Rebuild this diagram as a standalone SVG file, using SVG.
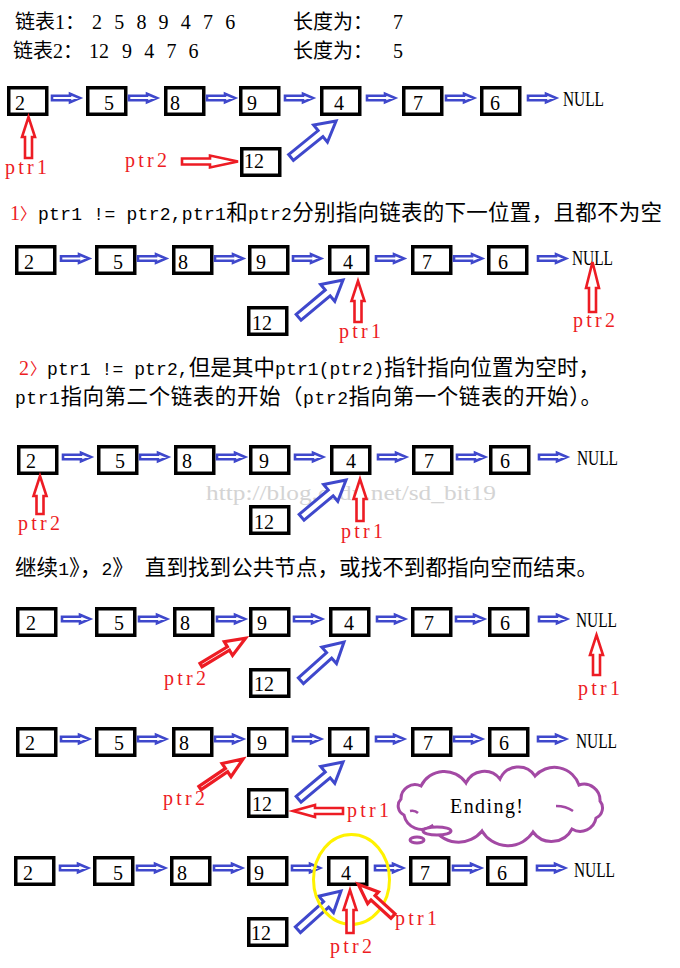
<svg xmlns="http://www.w3.org/2000/svg" xmlns:xlink="http://www.w3.org/1999/xlink" width="680" height="968" viewBox="0 0 680 968">
<style>
.box{fill:#fff;stroke:#000;stroke-width:3.5}
.num{font-family:"Liberation Serif",serif;font-size:20px;fill:#000}
.nul{font-family:"Liberation Serif",serif;font-size:20px;fill:#000}
.ba{fill:#fff;stroke:#3F48CC;stroke-width:2.6}
.bd{fill:#fff;stroke:#3F48CC;stroke-width:3}
.ra{fill:#fff;stroke:#ED1C24;stroke-width:2.6}
.rb{fill:#fff;stroke:#ED1C24;stroke-width:3.2}
.lbl{font-family:"Liberation Serif",serif;font-size:20px;fill:#ED1C24}
.top{font-family:"Liberation Serif","Noto Sans CJK SC",sans-serif;font-size:20px;fill:#000}
.body{font-family:"Noto Sans CJK SC",sans-serif;font-size:21.5px;fill:#000}
.m{font-family:"Liberation Mono",monospace;font-size:18px}
.rs{font-family:"Liberation Serif",serif;font-size:20px;fill:#ED1C24}
.rc{font-family:"Noto Sans CJK SC",sans-serif;font-size:16px;fill:#ED1C24}
.wm{font-family:"Liberation Serif",serif;font-size:20px;fill:#d4d4d4}
</style>
<defs>
<path id="sa" d="M0,-2.2 H18 V-4.3 L28,0 L18,4.3 V2.2 H0 Z"/>
<path id="da" d="M0,-3.8 H38 V-11 L58,0 L38,11 V3.8 H0 Z"/>
<path id="rd" d="M0,-2 H32 V-8 L52,0 L32,8 V2 H0 Z"/>
<path id="rd2" d="M0,-3 H27 V-8 L47,0 L27,8 V3 H0 Z"/>
</defs>
<rect width="680" height="968" fill="#fff"/>

<g id="header">
<text class="top" y="29"><tspan x="15">链表1：</tspan><tspan x="92" style="letter-spacing:3.6px">2 5 8 9 4 7 6</tspan></text>
<text class="top" y="29"><tspan x="293">长度为：</tspan><tspan x="393">7</tspan></text>
<text class="top" y="58"><tspan x="13">链表2：</tspan><tspan x="89">12 </tspan><tspan x="122" style="letter-spacing:3.6px">9 4 7 6</tspan></text>
<text class="top" y="58"><tspan x="293">长度为：</tspan><tspan x="393">5</tspan></text>
</g>

<g id="step1-text">
<text class="rs" x="10" y="220">1</text>
<text class="rc" x="20" y="219">〉</text>
<text class="body" x="38" y="220" textLength="624" lengthAdjust="spacing"><tspan class="m">ptr1 != ptr2,ptr1</tspan>和<tspan class="m">ptr2</tspan>分别指向链表的下一位置，且都不为空</text>
</g>
<g id="step2-text">
<text class="rs" x="19" y="375">2</text>
<text class="rc" x="30" y="374">〉</text>
<text class="body" x="47" y="375" textLength="553" lengthAdjust="spacing"><tspan class="m">ptr1 != ptr2,</tspan>但是其中<tspan class="m">ptr1(ptr2)</tspan>指针指向位置为空时，</text>
<text class="body" x="15" y="404" textLength="587" lengthAdjust="spacing"><tspan class="m">ptr1</tspan>指向第二个链表的开始（<tspan class="m">ptr2</tspan>指向第一个链表的开始）。</text>
</g>
<g id="step3-text">
<text class="body" y="575" x="15" textLength="583" lengthAdjust="spacing">继续<tspan class="m">1</tspan>》，<tspan class="m">2</tspan>》<tspan class="m"> </tspan>直到找到公共节点，或找不到都指向空而结束。</text>
</g>

<text id="watermark" class="wm" x="206" y="500" textLength="290" lengthAdjust="spacingAndGlyphs">http://blog.csdn.net/sd_bit19</text>

<!-- Row 1 -->
<g id="row1">
<g id="r1-n2"><rect class="box" x="8.75" y="87.75" width="38" height="26.5"/><text class="num" x="15" y="110">2</text></g>
<g id="r1-n5"><rect class="box" x="87.75" y="87.75" width="38" height="26.5"/><text class="num" x="104" y="110">5</text></g>
<g id="r1-n8"><rect class="box" x="165.75" y="87.75" width="38" height="26.5"/><text class="num" x="170" y="110">8</text></g>
<g id="r1-n9"><rect class="box" x="240.75" y="87.75" width="38" height="26.5"/><text class="num" x="247" y="110">9</text></g>
<g id="r1-n4"><rect class="box" x="321.75" y="87.75" width="38" height="26.5"/><text class="num" x="334" y="110">4</text></g>
<g id="r1-n7"><rect class="box" x="403.75" y="87.75" width="38" height="26.5"/><text class="num" x="413" y="110">7</text></g>
<g id="r1-n6"><rect class="box" x="481.75" y="87.75" width="38" height="26.5"/><text class="num" x="490" y="110">6</text></g>
<g id="r1-null"><text class="nul" x="563" y="106" textLength="41" lengthAdjust="spacingAndGlyphs">NULL</text></g>
<g id="r1-n12"><rect class="box" x="241.75" y="148.75" width="38" height="26.5"/><text class="num" x="244" y="168">12</text></g>
<g id="r1-ptr1"><text class="lbl" x="5" y="174" textLength="42" lengthAdjust="spacing">ptr1</text></g>
<g id="r1-ptr2"><text class="lbl" x="125" y="167" textLength="42" lengthAdjust="spacing">ptr2</text></g>
</g>
<g id="row1-connectors">
<use href="#sa" class="ba" transform="translate(52,98)"/>
<use href="#sa" class="ba" transform="translate(129,98)"/>
<use href="#sa" class="ba" transform="translate(207,98)"/>
<use href="#sa" class="ba" transform="translate(285,98)"/>
<use href="#sa" class="ba" transform="translate(367,98)"/>
<use href="#sa" class="ba" transform="translate(446,98)"/>
<use href="#sa" class="ba" transform="translate(528,98)"/>
<use href="#da" class="bd" transform="translate(291,157.5) rotate(-39)"/>
<polygon class="ra" points="25,158 25,137 22,137 28.5,117 35,137 32,137 32,158"/>
<polygon class="ra" points="182,158.5 210,158.5 210,155.5 238,161.5 210,167.5 210,164.5 182,164.5"/>
</g>

<!-- Row 2 -->
<g id="row2">
<g id="r2-n2"><rect class="box" x="16.75" y="246.75" width="38" height="26.5"/><text class="num" x="24" y="269">2</text></g>
<g id="r2-n5"><rect class="box" x="96.75" y="246.75" width="38" height="26.5"/><text class="num" x="113" y="269">5</text></g>
<g id="r2-n8"><rect class="box" x="173.75" y="246.75" width="38" height="26.5"/><text class="num" x="178" y="269">8</text></g>
<g id="r2-n9"><rect class="box" x="249.75" y="246.75" width="38" height="26.5"/><text class="num" x="256" y="269">9</text></g>
<g id="r2-n4"><rect class="box" x="329.75" y="246.75" width="38" height="26.5"/><text class="num" x="343" y="269">4</text></g>
<g id="r2-n7"><rect class="box" x="412.75" y="246.75" width="38" height="26.5"/><text class="num" x="422" y="269">7</text></g>
<g id="r2-n6"><rect class="box" x="488.75" y="246.75" width="38" height="26.5"/><text class="num" x="498" y="269">6</text></g>
<g id="r2-null"><text class="nul" x="572" y="265" textLength="41" lengthAdjust="spacingAndGlyphs">NULL</text></g>
<g id="r2-n12"><rect class="box" x="248.75" y="307.75" width="38" height="26.5"/><text class="num" x="252" y="330">12</text></g>
<g id="r2-ptr1"><text class="lbl" x="339" y="338" textLength="42" lengthAdjust="spacing">ptr1</text></g>
<g id="r2-ptr2"><text class="lbl" x="573" y="327" textLength="42" lengthAdjust="spacing">ptr2</text></g>
</g>
<g id="row2-connectors">
<use href="#sa" class="ba" transform="translate(61,258.5)"/>
<use href="#sa" class="ba" transform="translate(138,258.5)"/>
<use href="#sa" class="ba" transform="translate(215,258.5)"/>
<use href="#sa" class="ba" transform="translate(293,258.5)"/>
<use href="#sa" class="ba" transform="translate(376,258.5)"/>
<use href="#sa" class="ba" transform="translate(454,258.5)"/>
<use href="#sa" class="ba" transform="translate(538,258.5)"/>
<use href="#da" class="bd" transform="translate(298.6,317.3) rotate(-40)"/>
<polygon class="ra" points="354.5,322 354.5,301 351.5,301 358,281 364.5,301 361.5,301 361.5,322"/>
<polygon class="ra" points="589,312 589,288 586,288 592.5,262 599,288 596,288 596,312"/>
</g>

<!-- Row 3 -->
<g id="row3">
<g id="r3-n2"><rect class="box" x="18.75" y="446.75" width="38" height="26.5"/><text class="num" x="26" y="468">2</text></g>
<g id="r3-n5"><rect class="box" x="98.75" y="446.75" width="38" height="26.5"/><text class="num" x="115" y="468">5</text></g>
<g id="r3-n8"><rect class="box" x="175.75" y="446.75" width="38" height="26.5"/><text class="num" x="182" y="468">8</text></g>
<g id="r3-n9"><rect class="box" x="250.75" y="446.75" width="38" height="26.5"/><text class="num" x="259" y="468">9</text></g>
<g id="r3-n4"><rect class="box" x="331.75" y="446.75" width="38" height="26.5"/><text class="num" x="346" y="468">4</text></g>
<g id="r3-n7"><rect class="box" x="413.75" y="446.75" width="38" height="26.5"/><text class="num" x="424" y="468">7</text></g>
<g id="r3-n6"><rect class="box" x="490.75" y="446.75" width="38" height="26.5"/><text class="num" x="500" y="468">6</text></g>
<g id="r3-null"><text class="nul" x="577" y="465" textLength="41" lengthAdjust="spacingAndGlyphs">NULL</text></g>
<g id="r3-n12"><rect class="box" x="250.75" y="506.75" width="38" height="26.5"/><text class="num" x="254" y="529">12</text></g>
<g id="r3-ptr2"><text class="lbl" x="18" y="530" textLength="42" lengthAdjust="spacing">ptr2</text></g>
<g id="r3-ptr1"><text class="lbl" x="341" y="538" textLength="42" lengthAdjust="spacing">ptr1</text></g>
</g>
<g id="row3-connectors">
<use href="#sa" class="ba" transform="translate(63,457)"/>
<use href="#sa" class="ba" transform="translate(140,457)"/>
<use href="#sa" class="ba" transform="translate(217,457)"/>
<use href="#sa" class="ba" transform="translate(295,457)"/>
<use href="#sa" class="ba" transform="translate(378,457)"/>
<use href="#sa" class="ba" transform="translate(457,457)"/>
<use href="#sa" class="ba" transform="translate(539,457)"/>
<use href="#da" class="bd" transform="translate(301.6,517.3) rotate(-40)"/>
<polygon class="ra" points="36.5,514 36.5,496 33.5,496 40,476 46.5,496 43.5,496 43.5,514"/>
<polygon class="ra" points="356.5,521 356.5,499 353.5,499 360,479 366.5,499 363.5,499 363.5,521"/>
</g>

<!-- Row 4 -->
<g id="row4">
<g id="r4-n2"><rect class="box" x="17.75" y="608.75" width="38" height="26.5"/><text class="num" x="26" y="630">2</text></g>
<g id="r4-n5"><rect class="box" x="96.75" y="608.75" width="38" height="26.5"/><text class="num" x="114" y="630">5</text></g>
<g id="r4-n8"><rect class="box" x="174.75" y="608.75" width="38" height="26.5"/><text class="num" x="180" y="630">8</text></g>
<g id="r4-n9"><rect class="box" x="250.75" y="608.75" width="38" height="26.5"/><text class="num" x="257" y="630">9</text></g>
<g id="r4-n4"><rect class="box" x="330.75" y="608.75" width="38" height="26.5"/><text class="num" x="344" y="630">4</text></g>
<g id="r4-n7"><rect class="box" x="412.75" y="608.75" width="38" height="26.5"/><text class="num" x="424" y="630">7</text></g>
<g id="r4-n6"><rect class="box" x="489.75" y="608.75" width="38" height="26.5"/><text class="num" x="500" y="630">6</text></g>
<g id="r4-null"><text class="nul" x="576" y="627" textLength="41" lengthAdjust="spacingAndGlyphs">NULL</text></g>
<g id="r4-n12"><rect class="box" x="250.75" y="669.75" width="38" height="26.5"/><text class="num" x="254" y="691">12</text></g>
<g id="r4-ptr2"><text class="lbl" x="164" y="685" textLength="42" lengthAdjust="spacing">ptr2</text></g>
<g id="r4-ptr1"><text class="lbl" x="578" y="695" textLength="42" lengthAdjust="spacing">ptr1</text></g>
</g>
<g id="row4-connectors">
<use href="#sa" class="ba" transform="translate(62,619)"/>
<use href="#sa" class="ba" transform="translate(139,619)"/>
<use href="#sa" class="ba" transform="translate(217,619)"/>
<use href="#sa" class="ba" transform="translate(294,619)"/>
<use href="#sa" class="ba" transform="translate(377,619)"/>
<use href="#sa" class="ba" transform="translate(456,619)"/>
<use href="#sa" class="ba" transform="translate(539,619)"/>
<use href="#da" class="bd" transform="translate(300.9,680.8) rotate(-42)"/>
<use href="#rd" class="rb" transform="translate(201,665) rotate(-31)"/>
<polygon class="ra" points="593,675 593,655 590,655 596.5,635 603,655 600,655 600,675"/>
</g>

<!-- Row 5 -->
<g id="row5">
<g id="r5-n2"><rect class="box" x="17.75" y="728.75" width="38" height="26.5"/><text class="num" x="25" y="750">2</text></g>
<g id="r5-n5"><rect class="box" x="96.75" y="728.75" width="38" height="26.5"/><text class="num" x="114" y="750">5</text></g>
<g id="r5-n8"><rect class="box" x="173.75" y="728.75" width="38" height="26.5"/><text class="num" x="179" y="750">8</text></g>
<g id="r5-n9"><rect class="box" x="248.75" y="728.75" width="38" height="26.5"/><text class="num" x="257" y="750">9</text></g>
<g id="r5-n4"><rect class="box" x="329.75" y="728.75" width="38" height="26.5"/><text class="num" x="343" y="750">4</text></g>
<g id="r5-n7"><rect class="box" x="412.75" y="728.75" width="38" height="26.5"/><text class="num" x="423" y="750">7</text></g>
<g id="r5-n6"><rect class="box" x="489.75" y="728.75" width="38" height="26.5"/><text class="num" x="499" y="750">6</text></g>
<g id="r5-null"><text class="nul" x="576" y="748" textLength="41" lengthAdjust="spacingAndGlyphs">NULL</text></g>
<g id="r5-n12"><rect class="box" x="248.75" y="789.75" width="38" height="26.5"/><text class="num" x="252" y="811">12</text></g>
<g id="r5-ptr2"><text class="lbl" x="163" y="805" textLength="42" lengthAdjust="spacing">ptr2</text></g>
<g id="r5-ptr1"><text class="lbl" x="347" y="817" textLength="42" lengthAdjust="spacing">ptr1</text></g>
</g>
<g id="row5-connectors">
<use href="#sa" class="ba" transform="translate(61,739)"/>
<use href="#sa" class="ba" transform="translate(138,739)"/>
<use href="#sa" class="ba" transform="translate(215,739)"/>
<use href="#sa" class="ba" transform="translate(293,739)"/>
<use href="#sa" class="ba" transform="translate(376,739)"/>
<use href="#sa" class="ba" transform="translate(454,739)"/>
<use href="#sa" class="ba" transform="translate(538,739)"/>
<use href="#da" class="bd" transform="translate(298.6,799.3) rotate(-40)"/>
<use href="#rd" class="rb" transform="translate(200,788) rotate(-34)"/>
<polygon class="ra" points="343,808 315,808 315,805 293,811 315,817 315,814 343,814"/>
</g>

<g id="ending-cloud">
<path d="M401,799 A14,14 0 0 1 421,786 A26,26 0 0 1 466,783 A20,20 0 0 1 500,779 A20,20 0 0 1 535,776 A26,26 0 0 1 579,785 A16,16 0 0 1 600,801 A11,11 0 0 1 596,818 A16,16 0 0 1 572,829 A23,23 0 0 1 533,832 A30,30 0 0 1 482,831 A30,30 0 0 1 432,826 A18,18 0 0 1 404,815 A10,10 0 0 1 401,799 Z" fill="#fff" stroke="#A349A4" stroke-width="3"/>
<path d="M556,806 Q566,806 573,811 M410,811 Q415,810 418,813" fill="none" stroke="#A349A4" stroke-width="2.5"/>
<ellipse cx="437" cy="831" rx="14" ry="4" fill="#fff" stroke="#A349A4" stroke-width="3"/>
<ellipse cx="417" cy="840" rx="7" ry="3" fill="#fff" stroke="#A349A4" stroke-width="3"/>
<text class="nul" x="450" y="813" textLength="73" lengthAdjust="spacing">Ending!</text>
</g>

<!-- Row 6 -->
<g id="row6">
<g id="r6-n2"><rect class="box" x="15.75" y="857.75" width="38" height="26.5"/><text class="num" x="23" y="880">2</text></g>
<g id="r6-n5"><rect class="box" x="94.75" y="857.75" width="38" height="26.5"/><text class="num" x="113" y="880">5</text></g>
<g id="r6-n8"><rect class="box" x="171.75" y="857.75" width="38" height="26.5"/><text class="num" x="177" y="880">8</text></g>
<g id="r6-n9"><rect class="box" x="248.75" y="857.75" width="38" height="26.5"/><text class="num" x="254" y="880">9</text></g>
<g id="r6-n4"><rect class="box" x="328.75" y="857.75" width="38" height="26.5"/><text class="num" x="341" y="880">4</text></g>
<g id="r6-n7"><rect class="box" x="410.75" y="857.75" width="38" height="26.5"/><text class="num" x="420" y="880">7</text></g>
<g id="r6-n6"><rect class="box" x="487.75" y="857.75" width="38" height="26.5"/><text class="num" x="497" y="880">6</text></g>
<g id="r6-null"><text class="nul" x="574" y="877" textLength="41" lengthAdjust="spacingAndGlyphs">NULL</text></g>
<g id="r6-n12"><rect class="box" x="248.75" y="918.75" width="38" height="26.5"/><text class="num" x="251" y="940">12</text></g>
<g id="r6-ptr2"><text class="lbl" x="330" y="953" textLength="42" lengthAdjust="spacing">ptr2</text></g>
<g id="r6-ptr1"><text class="lbl" x="395" y="925" textLength="42" lengthAdjust="spacing">ptr1</text></g>
</g>
<g id="row6-connectors">
<use href="#sa" class="ba" transform="translate(60,868)"/>
<use href="#sa" class="ba" transform="translate(137,868)"/>
<use href="#sa" class="ba" transform="translate(214,868)"/>
<use href="#sa" class="ba" transform="translate(292,868)"/>
<use href="#sa" class="ba" transform="translate(375,868)"/>
<use href="#sa" class="ba" transform="translate(453,868)"/>
<use href="#sa" class="ba" transform="translate(537,868)"/>
<use href="#da" class="bd" transform="translate(297.9,929.8) rotate(-42)"/>
<ellipse id="highlight" cx="351.5" cy="879.5" rx="38" ry="45" fill="none" stroke="#FFF200" stroke-width="3"/>
<polygon class="ra" points="346.5,933 346.5,910 343.5,910 350,890 356.5,910 353.5,910 353.5,933"/>
<use href="#rd2" class="rb" transform="translate(393,916) rotate(-137.6)"/>
</g>
</svg>
